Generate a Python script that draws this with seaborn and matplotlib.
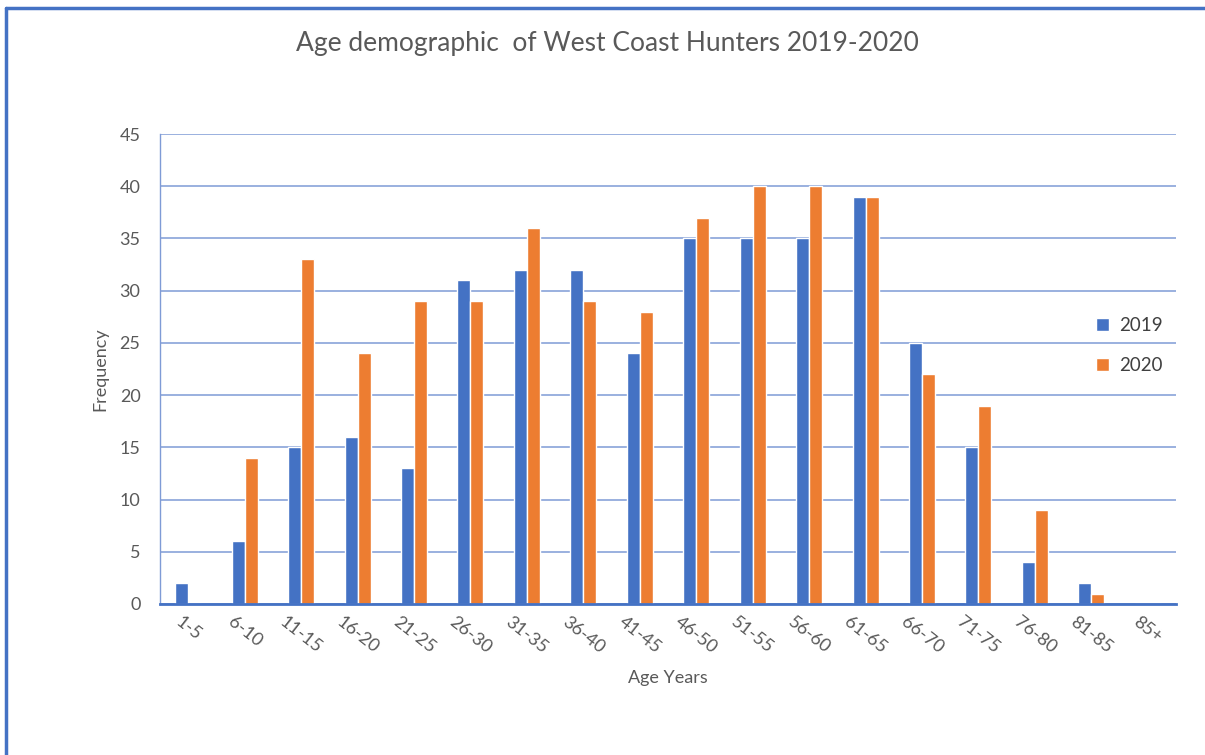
import numpy as np
import pandas as pd
import seaborn as sns
import matplotlib.pyplot as plt
from matplotlib.lines import Line2D

# data
age_groups = ["1-5", "6-10", "11-15", "16-20", "21-25", "26-30", "31-35", "36-40", "41-45",
              "46-50", "51-55", "56-60", "61-65", "66-70", "71-75", "76-80", "81-85", "85+"]
freq_2019 = [2, 6, 15, 16, 13, 31, 32, 32, 24, 35, 35, 35, 39, 25, 15, 4, 2, 0]
freq_2020 = [0, 14, 33, 24, 29, 29, 36, 29, 28, 37, 40, 40, 39, 22, 19, 9, 1, 0]

df = pd.DataFrame({"age": age_groups * 2,
                   "freq": freq_2019 + freq_2020,
                   "year": ["2019"] * len(age_groups) + ["2020"] * len(age_groups)})

sns.set_style("white")
plt.rcParams['font.family'] = ['Lato', 'DejaVu Sans']

txt = "#595959"
blue = "#4472C4"
orange = "#ED7D31"

fig = plt.figure(figsize=(12.05, 7.55), dpi=100)
ax = fig.add_axes([160/1205, 1 - 604/755, 1016/1205, 470/755])

sns.barplot(data=df, x="age", y="freq", hue="year", palette=[blue, orange],
            width=0.46, ax=ax, saturation=1, legend=True)

ax.set_ylim(0, 45)
ax.set_xlim(-0.5, len(age_groups) - 0.5)
ax.set_yticks(np.arange(0, 46, 5))
ax.yaxis.grid(True, color="#7F9BD6", linewidth=1.1)
ax.set_axisbelow(True)
for s in ["top", "right"]:
    ax.spines[s].set_visible(False)
ax.spines["left"].set_color("#7F9BD6")
ax.spines["left"].set_linewidth(1.0)
ax.spines["bottom"].set_color(blue)
ax.spines["bottom"].set_linewidth(2)

ax.tick_params(axis="y", labelsize=13, colors=txt, length=0, pad=14)
ax.tick_params(axis="x", labelsize=13, colors=txt, length=0, pad=7)
plt.setp(ax.get_xticklabels(), rotation=-38, ha="center", va="top")

ax.set_xlabel("Age Years", fontsize=13, color=txt, labelpad=10)
ax.set_ylabel("Frequency", fontsize=13, color=txt, labelpad=8)

fig.text(607/1205, 1 - 44/755, "Age demographic  of West Coast Hunters 2019-2020",
         ha="center", va="center", fontsize=19, color=txt)

leg = ax.legend(loc="center left", bbox_to_anchor=(0.905, 0.55), frameon=False,
                fontsize=13.5, handlelength=0.7, handleheight=0.7, handletextpad=0.5,
                labelspacing=1.25)
for t in leg.get_texts():
    t.set_color("#404040")

# outer chart border (left and top edges)
fig.add_artist(Line2D([6/1205, 6/1205], [0, 1 - 8/755], color=blue, linewidth=2.5,
                      transform=fig.transFigure))
fig.add_artist(Line2D([6/1205, 1], [1 - 8/755, 1 - 8/755], color=blue, linewidth=2.5,
                      transform=fig.transFigure))

fig.savefig("out.png", dpi=100)
